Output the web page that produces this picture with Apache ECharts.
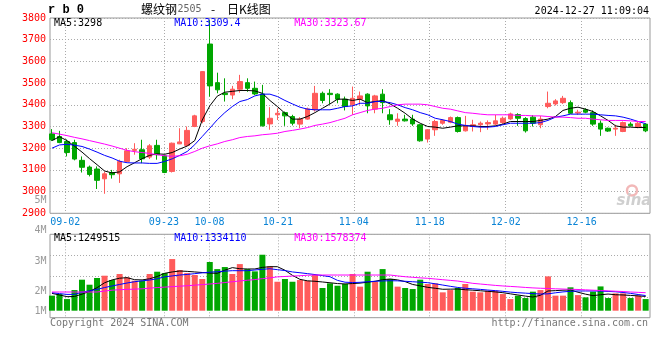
<!DOCTYPE html>
<html><head><meta charset="utf-8">
<script src="https://cdn.jsdelivr.net/npm/echarts@6/dist/echarts.min.js"></script>
<style>html,body{margin:0;padding:0;background:#fff}#c{width:660px;height:360px}</style>
</head><body><div id="c"></div><script>
const dates = ['08-29','08-30','09-02','09-03','09-04','09-05','09-06','09-09','09-10','09-11','09-12','09-13','09-18','09-19','09-20','09-23','09-24','09-25','09-26','09-27','09-30','10-08','10-09','10-10','10-11','10-14','10-15','10-16','10-17','10-18','10-21','10-22','10-23','10-24','10-25','10-28','10-29','10-30','10-31','11-01','11-04','11-05','11-06','11-07','11-08','11-11','11-12','11-13','11-14','11-15','11-18','11-19','11-20','11-21','11-22','11-25','11-26','11-27','11-28','11-29','12-02','12-03','12-04','12-05','12-06','12-09','12-10','12-11','12-12','12-13','12-16','12-17','12-18','12-19','12-20','12-23','12-24','12-25','12-26','12-27'];
const tickDates = ['09-02','09-23','10-08','10-21','11-04','11-18','12-02','12-16'];
// [open, close, low, high]
const ohlc = [[3266,3239,3233,3288],[3254,3226,3223,3280],[3231,3180,3162,3240],[3226,3150,3144,3239],[3144,3112,3088,3162],[3113,3079,3070,3120],[3104,3052,3012,3116],[3059,3082,2990,3092],[3088,3078,3060,3100],[3082,3139,3040,3147],
[3139,3188,3137,3200],[3190,3195,3170,3223],[3193,3151,3131,3239],[3159,3211,3150,3219],[3213,3170,3147,3239],[3165,3088,3085,3170],[3093,3223,3088,3226],[3220,3229,3219,3292],[3213,3282,3208,3300],[3300,3349,3297,3354],
[3323,3553,3315,3555],[3680,3487,3438,3790],[3502,3469,3453,3548],[3453,3447,3415,3522],[3445,3472,3426,3487],[3472,3507,3456,3538],[3502,3476,3460,3522],[3476,3450,3445,3507],[3450,3303,3300,3492],[3312,3338,3285,3389],
[3354,3361,3330,3384],[3364,3349,3303,3369],[3346,3315,3305,3354],[3311,3334,3292,3343],[3334,3381,3331,3387],[3377,3453,3369,3487],[3453,3420,3407,3461],[3453,3447,3404,3472],[3449,3426,3407,3453],[3426,3392,3374,3438],
[3400,3430,3354,3484],[3426,3441,3400,3461],[3449,3395,3361,3453],[3380,3441,3361,3446],[3449,3410,3361,3472],[3354,3331,3308,3380],[3324,3334,3303,3361],[3334,3326,3323,3354],[3334,3312,3303,3354],[3308,3234,3230,3311],
[3242,3285,3226,3288],[3285,3323,3257,3331],[3315,3328,3308,3334],[3320,3341,3315,3346],[3341,3277,3272,3346],[3280,3305,3277,3349],[3300,3308,3277,3331],[3308,3315,3274,3323],[3312,3318,3285,3328],[3311,3326,3306,3354],
[3318,3338,3312,3346],[3335,3358,3331,3364],[3355,3338,3303,3361],[3337,3280,3272,3343],[3343,3315,3300,3352],[3308,3334,3292,3349],[3392,3407,3384,3461],[3404,3418,3397,3426],[3410,3430,3404,3441],[3410,3361,3358,3420],
[3362,3366,3354,3377],[3377,3366,3361,3384],[3364,3311,3303,3374],[3315,3288,3257,3328],[3292,3279,3275,3295],[3288,3292,3257,3308],[3277,3318,3274,3323],[3311,3303,3300,3320],[3297,3315,3292,3323],[3311,3280,3274,3315]];
const ma5 = [3235,3253,3235,3209,3182,3152,3124,3095,3086,3091,3115,3133,3152,3167,3174,3172,3180,3196,3210,3235,3330,3395,3440,3458,3462,3466,3466,3464,3453,3420,3392,3361,3334,3334,3346,3364,3384,3404,3426,3426,3420,3426,3410,3415,3420,3404,3384,3361,3334,3315,3300,3297,3292,3297,3303,3303,3303,3300,3300,3303,3311,3323,3323,3323,3323,3328,3334,3346,3374,3384,3389,3380,3369,3349,3328,3303,3297,3297,3295,3296];
const ma10 = [3200,3215,3218,3214,3208,3196,3182,3167,3155,3140,3133,3132,3132,3130,3130,3139,3151,3167,3185,3216,3254,3292,3331,3364,3392,3415,3424,3441,3449,3449,3438,3420,3404,3389,3380,3377,3377,3377,3384,3392,3395,3407,3407,3415,3415,3410,3400,3387,3377,3364,3354,3338,3331,3323,3311,3305,3300,3297,3297,3300,3308,3315,3315,3315,3315,3318,3328,3343,3349,3357,3357,3357,3357,3354,3351,3349,3343,3334,3323,3313];
const ma30 = [3271,3265,3258,3250,3243,3235,3227,3219,3210,3200,3190,3184,3180,3176,3170,3165,3163,3165,3172,3185,3200,3211,3220,3231,3239,3249,3254,3257,3262,3265,3269,3277,3282,3288,3295,3305,3311,3318,3328,3338,3354,3364,3374,3380,3384,3392,3400,3403,3403,3403,3400,3392,3384,3380,3372,3364,3361,3357,3354,3354,3354,3354,3351,3351,3349,3349,3346,3343,3343,3341,3338,3338,3334,3331,3328,3328,3328,3326,3323,3323];
// volume in millions
const vol = [1.32,1.46,1.02,1.81,2.72,2.28,2.87,3.07,2.69,3.22,2.92,2.63,2.63,3.22,3.42,3.30,4.53,3.57,3.30,3.13,2.78,4.27,3.65,3.83,3.22,4.09,3.65,3.45,4.91,3.89,2.54,2.78,2.54,2.69,2.63,3.13,1.99,2.40,2.19,2.34,3.22,2.11,3.42,2.54,3.65,2.78,2.11,1.99,1.90,2.72,2.34,2.40,1.61,1.81,1.99,2.34,1.67,1.61,1.75,1.75,1.46,1.02,1.32,1.11,1.67,1.81,3.01,1.32,1.32,2.05,1.37,1.17,1.67,2.13,1.11,1.52,1.52,1.11,1.32,1.02];
const vma5 = [1.52,1.38,1.23,1.25,1.45,1.70,2.02,2.45,2.70,2.85,2.90,2.72,2.70,2.80,3.00,3.28,3.40,3.48,3.45,3.40,3.35,3.30,3.28,3.55,3.78,3.68,3.66,3.66,3.80,3.86,3.86,3.55,3.10,2.75,2.62,2.58,2.52,2.45,2.38,2.35,2.38,2.42,2.50,2.58,2.72,2.78,2.70,2.55,2.30,2.18,2.05,1.97,1.88,1.89,1.90,1.84,1.80,1.75,1.70,1.65,1.58,1.48,1.38,1.28,1.20,1.35,1.73,1.76,1.80,1.82,1.62,1.45,1.32,1.40,1.46,1.40,1.38,1.34,1.30,1.25];
const vma10 = [1.58,1.50,1.43,1.43,1.62,1.74,1.87,2.03,2.17,2.30,2.43,2.54,2.62,2.69,2.80,2.97,3.05,3.13,3.18,3.25,3.32,3.38,3.42,3.47,3.51,3.51,3.51,3.57,3.63,3.68,3.60,3.52,3.40,3.33,3.25,3.17,3.08,2.98,2.66,2.50,2.47,2.49,2.54,2.58,2.61,2.63,2.62,2.58,2.54,2.50,2.46,2.36,2.25,2.14,2.04,1.97,1.92,1.87,1.81,1.76,1.70,1.63,1.58,1.54,1.50,1.46,1.48,1.57,1.65,1.70,1.73,1.73,1.73,1.72,1.69,1.66,1.60,1.52,1.42,1.33];
const vma30 = [1.64,1.64,1.64,1.64,1.64,1.64,1.64,1.72,1.80,1.84,1.87,1.89,1.92,1.98,2.03,2.07,2.11,2.15,2.19,2.24,2.29,2.34,2.40,2.47,2.54,2.61,2.67,2.73,2.81,2.88,2.97,3.00,3.04,3.07,3.11,3.13,3.13,3.13,3.13,3.13,3.13,3.13,3.13,3.13,3.13,3.13,3.05,2.98,2.93,2.88,2.84,2.78,2.72,2.66,2.60,2.50,2.40,2.34,2.28,2.22,2.17,2.13,2.09,2.04,2.00,1.97,1.95,1.92,1.90,1.88,1.86,1.83,1.80,1.77,1.74,1.71,1.68,1.64,1.61,1.58];
const priceMin = 2900, priceMax = 3800, priceStep = 100;
const volTickLabels = ['5M','4M','3M','2M','1M'];
const volTickY = [200.7, 230.7, 261, 291, 311];
const maPriceLabels = ['MA5:3298','MA10:3309.4','MA30:3323.67'];
const maVolLabels = ['MA5:1249515','MA10:1334110','MA30:1578374'];

const UP = '#ff5b5b', DOWN = '#00a600';
const MONO = 'DejaVu Sans Mono';
const tickSet = new Set(tickDates.map(d => dates.indexOf(d)));
const dotted = {color:'#aaaaaa', width:1, type:[1,2]};
const candleGrid = {left:48.2, width:601.2, top:18, height:195.3, outerBoundsMode:'none'};
const frameGrid = {left:50, width:600, top:18, height:195.3, show:true, borderColor:'#999', borderWidth:1, outerBoundsMode:'none'};
const volGrid = {left:48.2, width:601.2, top:234.3, height:83.4, outerBoundsMode:'none'};
const volFrame = {left:50, width:600, top:234.3, height:83.4, show:true, borderColor:'#999', borderWidth:1, outerBoundsMode:'none'};

const chart = echarts.init(document.getElementById('c'), null, {renderer:'canvas'});
function txt(t, x, y, color, font, align) {
  return {type:'text', x:x, y:y, z:100, silent:true,
    style:{text:t, fill:color, font:font, textAlign:align||'left', textVerticalAlign:'middle'}};
}
const colors = [ '#000000', '#0000ff', '#ff00ff' ];
const graphics = [
  txt('r b 0', 48, 10, '#000', 'bold 12px "Liberation Mono"'),
  txt('螺纹钢', 141, 9, '#000', '12px "Noto Sans CJK SC"'),
  txt('2505', 177.5, 9.5, '#666', '10px ' + MONO),
  txt('-', 211, 9, '#000', '12px "Noto Sans CJK SC"'),
  txt('日K线图', 227, 9, '#000', '12px "Noto Sans CJK SC"'),
  txt('2024-12-27 11:09:04', 649, 11, '#000', '10px ' + MONO, 'right'),
  txt('Copyright 2024 SINA.COM', 50, 323.3, '#777', '10px ' + MONO),
  txt('http://finance.sina.com.cn', 648, 323.3, '#777', '10px ' + MONO, 'right'),
  {type:'circle', shape:{cx:632, cy:190.5, r:5}, z:1, silent:true, style:{fill:'none', stroke:'#f2b8b8', lineWidth:2.5}},
  txt('sina', 634, 201, '#cfcfcf', 'italic bold 15px "DejaVu Sans"', 'center')
];
const labelX = [54, 174.3, 294.3];
maPriceLabels.forEach((t,i)=>graphics.push(txt(t, labelX[i], 23.3, colors[i], '10px ' + MONO)));
maVolLabels.forEach((t,i)=>graphics.push(txt(t, labelX[i], 238.3, colors[i], '10px ' + MONO)));
volTickLabels.forEach((t,i)=>graphics.push(txt(t, 46.5, volTickY[i], '#999', '10px ' + MONO, 'right')));

function lineSeries(name, data, color, xi, yi) {
  return {name, type:'line', data, xAxisIndex:xi, yAxisIndex:yi, symbol:'none', smooth:false,
    lineStyle:{color, width:1}, z:5, silent:true, animation:false};
}

chart.setOption({
  animation:false,
  backgroundColor:'#ffffff',
  grid:[candleGrid, frameGrid, volGrid, volFrame],
  xAxis:[
    {type:'category', gridIndex:0, data:dates, boundaryGap:true, show:false},
    {type:'category', gridIndex:1, data:dates, boundaryGap:false,
      axisLine:{show:false}, axisTick:{show:false},
      axisLabel:{show:true, interval:(i)=>tickSet.has(i), color:'#0a84d6', fontFamily:MONO, fontSize:10, margin:4,
        hideOverlap:false, showMinLabel:true},
      splitLine:{show:true, interval:(i)=>tickSet.has(i), lineStyle:dotted}},
    {type:'category', gridIndex:2, data:dates, boundaryGap:true, show:false},
    {type:'category', gridIndex:3, data:dates, boundaryGap:false,
      axisLine:{show:false}, axisTick:{show:false}, axisLabel:{show:false},
      splitLine:{show:true, interval:(i)=>tickSet.has(i), lineStyle:dotted}}
  ],
  yAxis:[
    {type:'value', gridIndex:0, min:priceMin, max:priceMax, show:false, splitLine:{show:false}},
    {type:'value', gridIndex:1, min:priceMin, max:priceMax, interval:priceStep,
      axisLine:{show:false}, axisTick:{show:false},
      axisLabel:{color:'#ff0000', fontFamily:MONO, fontSize:10, margin:4, showMinLabel:true, showMaxLabel:true,
        hideOverlap:false, formatter:(v)=>String(v)},
      splitLine:{show:true, lineStyle:dotted}},
    {type:'value', gridIndex:2, min:-0.614, max:6.702, show:false, splitLine:{show:false}},
    {type:'value', gridIndex:3, min:0, max:4, interval:1, axisLine:{show:false}, axisTick:{show:false},
      axisLabel:{show:false}, splitLine:{show:true, lineStyle:dotted}}
  ],
  series:[
    {type:'candlestick', xAxisIndex:0, yAxisIndex:0, data:ohlc, barWidth:5, silent:true,
      itemStyle:{color:UP, color0:DOWN, borderColor:UP, borderColor0:DOWN, borderWidth:1}},
    lineSeries('MA5', ma5, colors[0], 0, 0),
    lineSeries('MA10', ma10, colors[1], 0, 0),
    lineSeries('MA30', ma30, colors[2], 0, 0),
    {type:'bar', xAxisIndex:2, yAxisIndex:2, barWidth:6, silent:true,
      data: vol.map((v,i)=>({value:v, itemStyle:{color: ohlc[i][1] >= ohlc[i][0] ? UP : DOWN}}))},
    lineSeries('VMA5', vma5, colors[0], 2, 2),
    lineSeries('VMA10', vma10, colors[1], 2, 2),
    lineSeries('VMA30', vma30, colors[2], 2, 2)
  ],
  graphic: graphics
});
</script></body></html>
